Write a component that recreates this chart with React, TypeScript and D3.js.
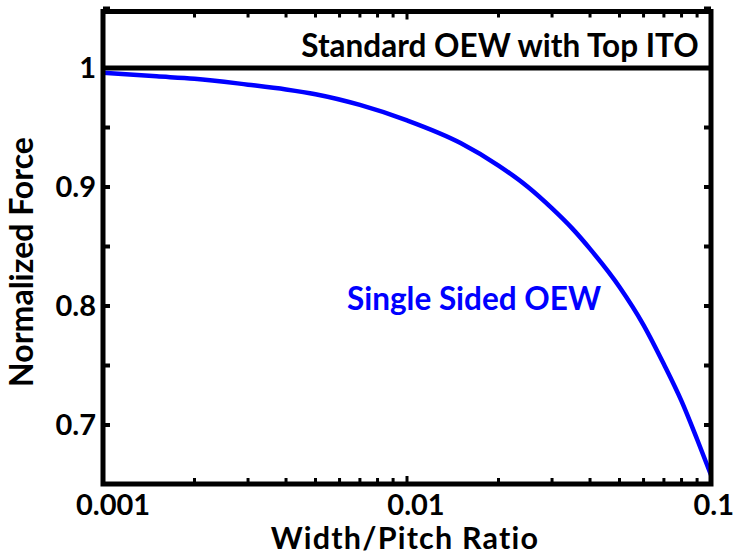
import React from 'react';
import * as d3 from 'd3';

// width/pitch ratio vs normalized force
const widthPitch = [0.001, 0.0015, 0.002, 0.003, 0.004, 0.005, 0.007, 0.01, 0.015, 0.02, 0.025, 0.03, 0.035, 0.04, 0.05, 0.06, 0.07, 0.08, 0.09, 0.1];
const normForce = [0.996, 0.993, 0.991, 0.986, 0.982, 0.978, 0.969, 0.956, 0.937, 0.918, 0.900, 0.882, 0.865, 0.848, 0.816, 0.784, 0.751, 0.720, 0.688, 0.658];

const referenceLevel = 1;

const xTicks = [0.001, 0.01, 0.1];
const xTickLabels = ['0.001', '0.01', '0.1'];
const yTicks = [0.7, 0.8, 0.9, 1];
const yTickLabels = ['0.7', '0.8', '0.9', '1'];

const W = 736;
const H = 557;
const left = 103, right = 711, top = 11.5, bottom = 484;
const font = 'Lato, "Open Sans", sans-serif';

export default function App() {
  const x = d3.scaleLog().domain([0.001, 0.1]).range([left, right]);
  const y = d3.scaleLinear().domain([0.65, 1.05]).range([484.5, 8.5]);

  const pts = widthPitch.map((w, i) => [x(w), y(normForce[i])] as [number, number]);
  const line = d3.line().curve(d3.curveMonotoneX)(pts) || '';

  const xMinor = x.ticks().filter(t => !xTicks.some(m => Math.abs(m - t) < 1e-9));
  const yMinor = d3.range(0.75, 1.05, 0.1);

  return (
    <div style={{ position: 'absolute', left: 0, top: 0 }}>
      <svg width={W} height={H} style={{ display: 'block', background: '#fff' }}>
        {/* reference line */}
        <line x1={left} x2={right} y1={y(referenceLevel)} y2={y(referenceLevel)} stroke="#000" strokeWidth={5} />
        {/* curve */}
        <path d={line} fill="none" stroke="#0000ff" strokeWidth={4.5} strokeLinejoin="round" />

        {/* ticks, inward on all four sides */}
        <g stroke="#000">
          {xTicks.map(t => (
            <g key={'xm' + t}>
              <line x1={x(t)} x2={x(t)} y1={bottom} y2={bottom - 8} strokeWidth={3} />
              <line x1={x(t)} x2={x(t)} y1={top} y2={top + 8} strokeWidth={3} />
            </g>
          ))}
          {xMinor.map(t => (
            <g key={'xn' + t}>
              <line x1={x(t)} x2={x(t)} y1={bottom} y2={bottom - 6} strokeWidth={3} />
              <line x1={x(t)} x2={x(t)} y1={top} y2={top + 6} strokeWidth={3} />
            </g>
          ))}
          {[...yTicks, ...yMinor].map(t => (
            <g key={'y' + t}>
              <line x1={left} x2={left + 7} y1={y(t)} y2={y(t)} strokeWidth={4} />
              <line x1={right} x2={right - 7} y1={y(t)} y2={y(t)} strokeWidth={4} />
            </g>
          ))}
        </g>

        {/* frame */}
        <rect x={left} y={top} width={right - left} height={bottom - top} fill="none" stroke="#000" strokeWidth={5} />

        {/* tick labels */}
        <g fontFamily={font} fontWeight="bold" fontSize={29} fill="#000">
          {yTicks.map((t, i) => (
            <text key={'yl' + t} x={96} y={y(t) + 10} textAnchor="end">{yTickLabels[i]}</text>
          ))}
          {xTicks.map((t, i) => {
            const anchor = i === 0 ? 'start' : i === xTicks.length - 1 ? 'end' : 'middle';
            const px = i === 0 ? x(t) - 27 : i === xTicks.length - 1 ? x(t) + 23 : x(t) + 9;
            return (
              <text key={'xl' + t} x={px} y={515} textAnchor={anchor}>{xTickLabels[i]}</text>
            );
          })}
        </g>

        {/* axis titles */}
        <text x={405} y={549} textAnchor="middle" fontFamily={font} fontWeight="bold" fontSize={30.5} letterSpacing={1.2}>
          Width/Pitch Ratio
        </text>
        <text transform={`translate(33, 262) rotate(-90)`} textAnchor="middle" fontFamily={font} fontWeight="bold" fontSize={32}>
          Normalized Force
        </text>

        {/* annotations */}
        <text x={500} y={57} textAnchor="middle" fontFamily={font} fontWeight="bold" fontSize={31.5} fill="#000">
          Standard OEW with Top ITO
        </text>
        <text x={474} y={310} textAnchor="middle" fontFamily={font} fontWeight="bold" fontSize={31.5} fill="#0000ff">
          Single Sided OEW
        </text>
      </svg>
    </div>
  );
}
